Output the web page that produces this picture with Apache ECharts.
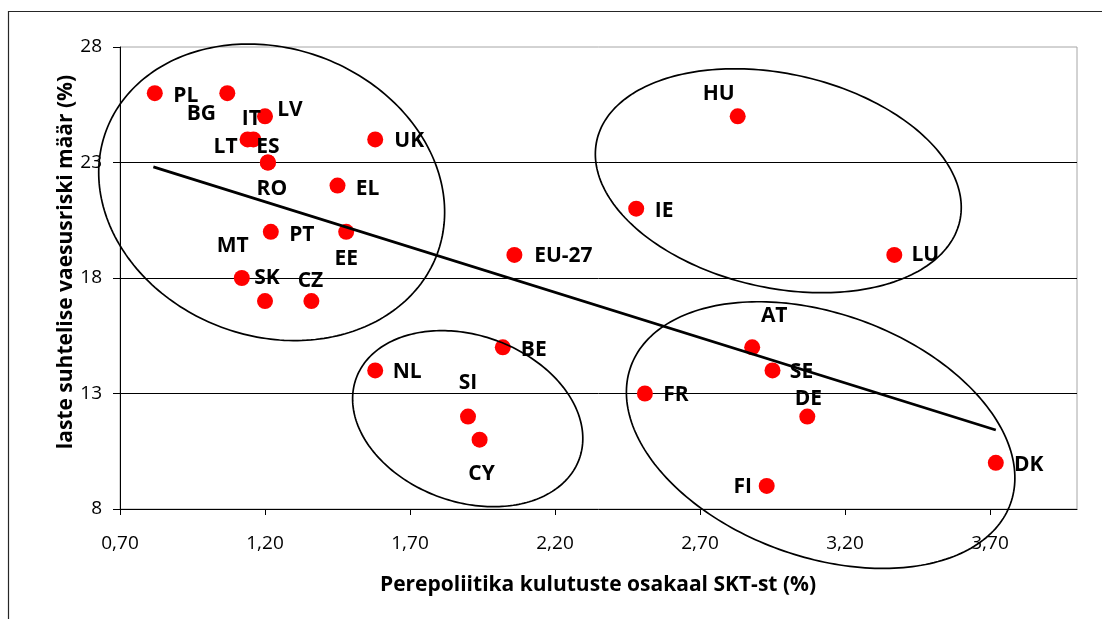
<!DOCTYPE html>
<html>
<head>
<meta charset="utf-8">
<title>Perepoliitika kulutused ja laste vaesusrisk</title>
<script src="https://cdn.jsdelivr.net/npm/echarts@6/dist/echarts.min.js"></script>
<style>
  html, body { margin: 0; padding: 0; background: #ffffff; }
  #chart { width: 1102px; height: 619px; }
</style>
</head>
<body>
<div id="chart"></div>
<script>
// Countries, family-policy spending (% of GDP) and child relative poverty risk (%)
const countries = ['PL', 'BG', 'IT', 'LT', 'LV', 'ES', 'RO', 'UK', 'EL', 'PT', 'EE', 'MT', 'SK', 'CZ',
                   'HU', 'IE', 'LU', 'EU-27', 'NL', 'BE', 'SI', 'CY', 'FR', 'AT', 'SE', 'DE', 'FI', 'DK'];
const spending  = [0.82, 1.07, 1.16, 1.14, 1.20, 1.21, 1.21, 1.58, 1.45, 1.22, 1.48, 1.12, 1.20, 1.36,
                   2.83, 2.48, 3.37, 2.06, 1.58, 2.02, 1.90, 1.94, 2.51, 2.88, 2.95, 3.07, 2.93, 3.72];
const poverty   = [26, 26, 24, 24, 25, 23, 23, 24, 22, 20, 20, 18, 17, 17,
                   25, 21, 19, 19, 14, 15, 12, 11, 13, 15, 14, 12, 9, 10];

// Linear trend line end points
const trendX = [0.815, 3.72];
const trendY = [22.81, 11.42];

// Axis ticks
const xTicks = [0.7, 1.2, 1.7, 2.2, 2.7, 3.2, 3.7];
const yTicks = [8, 13, 18, 23, 28];

// Country groups outlined with ellipses: centre in data units,
// semi-axes in x-units (major) and y-units (minor), tilt in degrees (clockwise)
const groupOutlines = [
  { cx: 1.223, cy: 21.71, rx: 0.609, ry: 6.23,  tilt: 20.4 },
  { cx: 2.970, cy: 22.21, rx: 0.641, ry: 4.633, tilt: 12.5 },
  { cx: 1.899, cy: 11.91, rx: 0.409, ry: 3.604, tilt: 19.8 },
  { cx: 3.116, cy: 11.20, rx: 0.696, ry: 5.261, tilt: 19.9 }
];

// Label placement relative to each marker centre (px)
const labelOffset = {
  'PL': [31, 3],   'BG': [-26, 21], 'IT': [-2, -20], 'LT': [-22, 8],  'LV': [25, -6],
  'ES': [0, -15],  'RO': [4, 27],   'UK': [34, 2],   'EL': [30, 3],   'PT': [31, 3],
  'EE': [0, 27],   'MT': [-9, -32], 'SK': [2, -23],  'CZ': [-1, -20], 'HU': [-19, -22],
  'IE': [28, 2],   'LU': [31, 0],   'EU-27': [49, 1], 'NL': [32, 2],  'BE': [31, 3],
  'SI': [0, -34],  'CY': [2, 34],   'FR': [31, 2],   'AT': [22, -31], 'SE': [29, 2],
  'DE': [1, -18],  'FI': [-24, 1],  'DK': [33, 2]
};

const FONT = "'Open Sans', 'Noto Sans', sans-serif";
const fmtX = v => v.toFixed(2).replace('.', ',');

const chart = echarts.init(document.getElementById('chart'), null, { renderer: 'canvas' });

const points = countries.map((c, i) => ({
  name: c,
  value: [spending[i], poverty[i]],
  label: { offset: labelOffset[c] || [28, 0] }
}));

const option = {
  animation: false,
  backgroundColor: '#ffffff',
  grid: {
    left: 120, top: 47, right: 25, bottom: 110,
    show: true, borderColor: '#a6a6a6', borderWidth: 1, backgroundColor: 'transparent'
  },
  xAxis: {
    type: 'value',
    min: 0.7,
    max: 4.0,
    axisLine: { show: true, onZero: false, lineStyle: { color: '#000', width: 1 } },
    axisTick: { show: true, length: 6, customValues: xTicks, lineStyle: { color: '#000' } },
    axisLabel: {
      customValues: xTicks,
      formatter: fmtX,
      margin: 25,
      fontFamily: FONT, fontSize: 19, color: '#000'
    },
    splitLine: { show: false }
  },
  yAxis: {
    type: 'value',
    min: yTicks[0],
    max: yTicks[yTicks.length - 1],
    interval: 5,
    axisLine: { show: true, onZero: false, lineStyle: { color: '#000', width: 1 } },
    axisTick: { show: true, length: 7, lineStyle: { color: '#000' } },
    axisLabel: { margin: 18, fontFamily: FONT, fontSize: 19, color: '#000' },
    splitLine: { show: true, showMinLine: false, showMaxLine: false, lineStyle: { color: '#000', width: 1 } }
  },
  series: [
    {
      type: 'scatter',
      name: 'riigid',
      data: points,
      symbol: 'circle',
      symbolSize: 16,
      itemStyle: { color: '#ff0000', opacity: 1 },
      label: {
        show: true,
        position: 'inside',
        formatter: '{b}',
        fontFamily: FONT,
        fontWeight: 'bold',
        fontSize: 21,
        color: '#000',
        opacity: 1,
        textBorderWidth: 0
      },
      emphasis: { disabled: true },
      z: 3
    },
    {
      type: 'line',
      name: 'trend',
      data: trendX.map((x, i) => [x, trendY[i]]),
      showSymbol: false,
      symbol: 'none',
      lineStyle: { color: '#000', width: 2.7 },
      silent: true,
      z: 4
    }
  ]
};

chart.setOption(option);

// Ellipse outline as a polygon in pixel space, scaled through the grid's axes
function outline(g) {
  const c = chart.convertToPixel({ gridIndex: 0 }, [g.cx, g.cy]);
  const px = chart.convertToPixel({ gridIndex: 0 }, [g.cx + g.rx, g.cy]);
  const py = chart.convertToPixel({ gridIndex: 0 }, [g.cx, g.cy + g.ry]);
  const a = Math.abs(px[0] - c[0]);
  const b = Math.abs(py[1] - c[1]);
  const th = g.tilt * Math.PI / 180;
  const pts = [];
  const n = 240;
  for (let i = 0; i < n; i++) {
    const t = i / n * 2 * Math.PI;
    pts.push([
      c[0] + a * Math.cos(t) * Math.cos(th) - b * Math.sin(t) * Math.sin(th),
      c[1] + a * Math.cos(t) * Math.sin(th) + b * Math.sin(t) * Math.cos(th)
    ]);
  }
  return {
    type: 'polygon',
    shape: { points: pts },
    style: { fill: null, stroke: '#000', lineWidth: 1.7 },
    silent: true,
    z: 60
  };
}

const graphics = groupOutlines.map(outline);

// Outer chart frame (top and left edges visible)
graphics.push({
  type: 'rect',
  shape: { x: 8.5, y: 11.5, width: 1300, height: 800 },
  style: { fill: null, stroke: '#262626', lineWidth: 1.2 },
  silent: true,
  z: 1
});

// Axis titles
graphics.push({
  type: 'text',
  x: 598, y: 585,
  style: {
    text: 'Perepoliitika kulutuste osakaal SKT-st (%)',
    fontFamily: FONT, fontWeight: 'bold', fontSize: 21, fill: '#000',
    align: 'center', verticalAlign: 'middle'
  },
  silent: true,
  z: 10
});
graphics.push({
  type: 'text',
  x: 66, y: 262,
  rotation: Math.PI / 2,
  style: {
    text: 'laste suhtelise vaesusriski määr (%)',
    fontFamily: FONT, fontWeight: 'bold', fontSize: 21, fill: '#000',
    align: 'center', verticalAlign: 'middle'
  },
  silent: true,
  z: 10
});

chart.setOption({ graphic: { elements: graphics } });
</script>
</body>
</html>
